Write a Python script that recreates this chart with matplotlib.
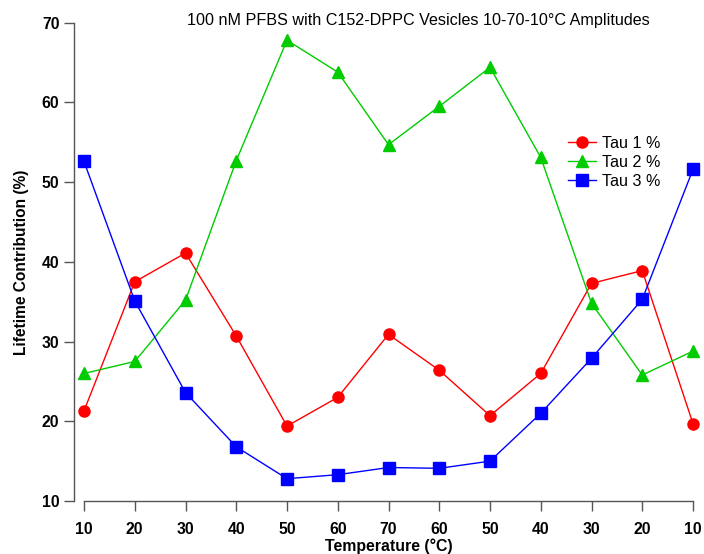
import matplotlib
matplotlib.use("Agg")
import matplotlib.pyplot as plt

# Temperature sequence of the heating/cooling cycle (°C)
temperatures = ["10", "20", "30", "40", "50", "60", "70", "60", "50", "40", "30", "20", "10"]

# Lifetime amplitude contributions (%)
tau1 = [21.3, 37.5, 41.1, 30.7, 19.4, 23.0, 30.9, 26.4, 20.7, 26.0, 37.3, 38.9, 19.7]
tau2 = [26.0, 27.5, 35.2, 52.7, 67.8, 63.8, 54.7, 59.5, 64.4, 53.1, 34.8, 25.8, 28.8]
tau3 = [52.6, 35.1, 23.6, 16.8, 12.8, 13.3, 14.2, 14.1, 15.0, 21.0, 27.9, 35.3, 51.6]

series_labels = ["Tau 1 %", "Tau 2 %", "Tau 3 %"]
y_ticks = [10, 20, 30, 40, 50, 60, 70]

plt.rcParams["font.family"] = ["Liberation Sans", "DejaVu Sans"]

fig = plt.figure(figsize=(7.04, 5.54), dpi=100)
ax = fig.add_axes([84 / 704, 1 - 501 / 554, (693 - 84) / 704, (501 - 22.7) / 554])

x = list(range(len(temperatures)))
styles = [
    (tau1, "#ff0000", "o"),
    (tau2, "#00cc00", "^"),
    (tau3, "#0000ff", "s"),
]
for (vals, color, marker), label in zip(styles, series_labels):
    ax.plot(x, vals, color=color, marker=marker, markersize=8, linewidth=1.0,
            label=label, clip_on=False, zorder=3)

ax.set_xlim(0, len(temperatures) - 1)
ax.set_ylim(10, 70)
ax.set_xticks(x)
ax.set_xticklabels(temperatures)
ax.set_yticks(y_ticks)

for side in ("top", "right"):
    ax.spines[side].set_visible(False)
ax.spines["left"].set_position(("outward", 7))
for side in ("left", "bottom"):
    ax.spines[side].set_color("#555555")
    ax.spines[side].set_linewidth(1.0)

ax.tick_params(axis="both", direction="out", length=7.5, width=1.0, color="#555555",
               labelsize=11.3)
ax.tick_params(axis="x", pad=7.5)
ax.tick_params(axis="y", pad=3.2)
for lbl in ax.get_xticklabels() + ax.get_yticklabels():
    lbl.set_fontweight("bold")

ax.set_xlabel("Temperature (°C)", fontsize=11.4, fontweight="bold", labelpad=1.0)
ax.set_ylabel("Lifetime Contribution (%)", fontsize=11.2, fontweight="bold", labelpad=9.5)

fig.text(418 / 704, 1 - 20.7 / 554, "100 nM PFBS with C152-DPPC Vesicles 10-70-10°C Amplitudes",
         ha="center", va="center", fontsize=11.6)

ax.legend(loc="upper left", bbox_to_anchor=(567.7 / 704, 1 - 135.5 / 554),
          bbox_transform=fig.transFigure, frameon=False, fontsize=11.6,
          borderpad=0, borderaxespad=0, handlelength=1.75, handletextpad=0.4,
          labelspacing=0.25)

fig.savefig("out.png", dpi=100)
